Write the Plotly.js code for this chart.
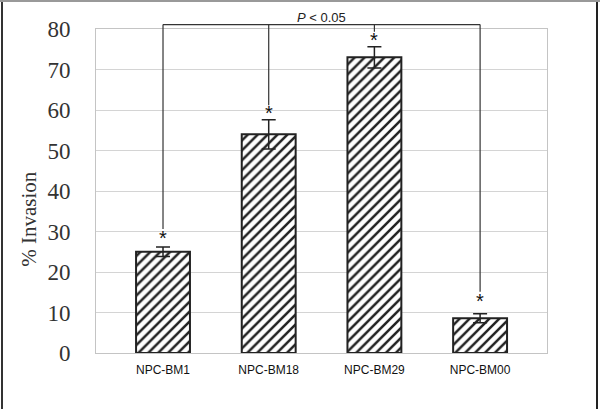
<!DOCTYPE html>
<html>
<head>
<meta charset="utf-8">
<script src="https://cdn.plot.ly/plotly-3.0.1.min.js"></script>
<style>
html,body{margin:0;padding:0;background:#fff;}
#wrap{position:relative;width:600px;height:409px;overflow:hidden;}
#chart{position:absolute;left:0;top:0;width:600px;height:409px;}
.fl{position:absolute;left:1px;top:0;width:2px;height:409px;background:#333;}
.fr{position:absolute;left:596px;top:0;width:2px;height:409px;background:#222;}
.ft{position:absolute;left:0;top:0;width:600px;height:2px;background:#999;}
</style>
</head>
<body>
<div id="wrap">
<div id="chart"></div>
<div class="fl"></div><div class="fr"></div><div class="ft"></div>
</div>
<script>
// Data
var categories = ["NPC-BM1", "NPC-BM18", "NPC-BM29", "NPC-BM00"];
var invasion = [25, 54, 73, 8.6];
var errors = [1.2, 3.6, 2.6, 1.1];
var yTicks = [0, 10, 20, 30, 40, 50, 60, 70, 80];
var bracketEnds = [30.6, 61.2, 79.3, 15.1];   // where each bracket leg stops
var starLevels = [28.5, 59.3, 77.4, 12.9];
var bracketTop = 81.1;
var pLabel = "<i>P</i> < 0.05";
var yTitle = "% Invasion";

var yMax = 80;
var trace = {
  type: "bar",
  x: [0, 1, 2, 3],
  y: invasion,
  width: 0.51,
  marker: {
    color: "#ffffff",
    line: {color: "#222", width: 2},
    pattern: {shape: "/", fgcolor: "#222", bgcolor: "#ffffff", size: 7, solidity: 0.36}
  },
  error_y: {type: "data", array: errors, visible: true, color: "#222", thickness: 1.5, width: 7},
  hoverinfo: "none"
};

var shapes = [];
shapes.push({type: "line", xref: "x", yref: "paper", x0: 0, x1: 3, y0: bracketTop / yMax, y1: bracketTop / yMax,
  line: {color: "#333", width: 1.2}});
for (var i = 0; i < categories.length; i++) {
  shapes.push({type: "line", xref: "x", yref: "paper", x0: i, x1: i, y0: bracketTop / yMax, y1: bracketEnds[i] / yMax,
    line: {color: "#333", width: 1.2}});
}

var annotations = [];
for (var j = 0; j < categories.length; j++) {
  annotations.push({x: j, y: starLevels[j], xref: "x", yref: "y", text: "*", showarrow: false,
    font: {family: "Liberation Sans, Arial", size: 20, color: "#111"}, yanchor: "middle"});
}
annotations.push({x: 1.5, y: bracketTop / yMax, xref: "x", yref: "paper", text: pLabel, showarrow: false,
  yanchor: "bottom", font: {family: "Liberation Sans, Arial", size: 13, color: "#222"}, yshift: -2});
annotations.push({x: -0.1486, y: 0.414, xref: "paper", yref: "paper", text: yTitle, showarrow: false,
  textangle: -90, xanchor: "center", yanchor: "middle",
  font: {family: "Liberation Serif, Times New Roman, serif", size: 21, color: "#333"}});

var layout = {
  width: 600, height: 409,
  margin: {l: 96, r: 53, t: 29, b: 56},
  paper_bgcolor: "#fff", plot_bgcolor: "#fff",
  showlegend: false,
  xaxis: {
    range: [-0.634, 3.633],
    tickvals: [0, 1, 2, 3],
    ticktext: categories,
    tickfont: {family: "Liberation Sans, Arial", size: 12, color: "#111"},
    showgrid: false, zeroline: false,
    showline: true, mirror: true, linecolor: "#c4c4c4", linewidth: 1,
    ticks: "outside", ticklen: 6, tickcolor: "rgba(0,0,0,0)"
  },
  yaxis: {
    range: [0, 80],
    tickvals: yTicks,
    tickfont: {family: "Liberation Serif, Times New Roman, serif", size: 23, color: "#333"},
    showgrid: true, gridcolor: "#d4d4d4", gridwidth: 1,
    zeroline: false,
    showline: true, mirror: true, linecolor: "#c4c4c4", linewidth: 1,
    ticks: "outside", ticklen: 20, tickcolor: "rgba(0,0,0,0)"
  },
  shapes: shapes,
  annotations: annotations
};

Plotly.newPlot("chart", [trace], layout, {displayModeBar: false, staticPlot: true});
</script>
</body>
</html>
